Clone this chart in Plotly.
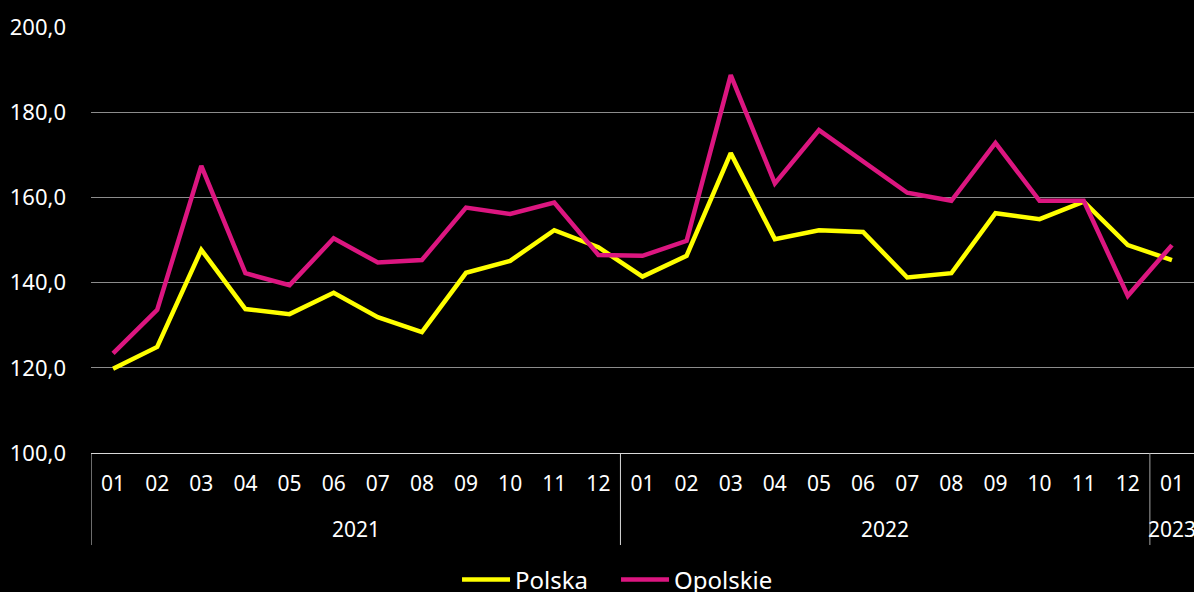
import plotly.graph_objects as go

years = ["2021"] * 12 + ["2022"] * 12 + ["2023"]
months = ["01", "02", "03", "04", "05", "06", "07", "08", "09", "10", "11", "12"] * 2 + ["01"]

polska = [119.8, 124.9, 147.7, 133.8, 132.6, 137.6, 131.9, 128.4, 142.3, 145.1, 152.3, 148.3,
          141.4, 146.3, 170.4, 150.2, 152.3, 151.9, 141.2, 142.2, 156.3, 154.9, 159.0, 148.8,
          145.3]
opolskie = [123.4, 133.6, 167.4, 142.2, 139.4, 150.4, 144.7, 145.3, 157.6, 156.1, 158.8, 146.5,
            146.3, 149.8, 188.7, 163.3, 175.8, 168.4, 161.1, 159.2, 172.8, 159.2, 159.2, 136.9,
            148.8]

y_ticks = [100, 120, 140, 160, 180, 200]

FONT = "Noto Sans"
idx = list(range(len(months)))

fig = go.Figure()
fig.add_trace(go.Scatter(x=idx, y=polska, name="Polska", mode="lines",
                         line=dict(color="#FFFF00", width=4.5),
                         customdata=years, hovertemplate="%{customdata}-%{text}: %{y}<extra></extra>",
                         text=months))
fig.add_trace(go.Scatter(x=idx, y=opolskie, name="Opolskie", mode="lines",
                         line=dict(color="#DC1680", width=4.5),
                         customdata=years, hovertemplate="%{customdata}-%{text}: %{y}<extra></extra>",
                         text=months))

fig.update_layout(
    width=1194, height=592,
    paper_bgcolor="black", plot_bgcolor="black",
    margin=dict(l=91, r=0, t=27, b=139, autoexpand=False),
    separators=", ",
    font=dict(family=FONT, color="white", size=20),
    showlegend=True,
    legend=dict(orientation="h", x=463 / 1194 - 0.005, xanchor="left", xref="container",
                yref="container", y=12 / 592, yanchor="middle",
                font=dict(size=24, color="white"), itemwidth=48, tracegroupgap=0,
                entrywidth=96, entrywidthmode="pixels"),
)
fig.update_xaxes(
    range=[-0.5, len(months) - 0.5],
    tickmode="array", tickvals=idx, ticktext=months,
    showline=True, linecolor="#d9d9d9", linewidth=1,
    showgrid=False, ticks="", zeroline=False,
    ticklabelstandoff=12, automargin=False,
    tickfont=dict(size=21, color="white"),
)
fig.update_yaxes(
    range=[100, 200], tickvals=y_ticks, tickformat=".1f",
    showgrid=True, gridcolor="#8c8c8c", gridwidth=1,
    zeroline=False, showline=False, ticks="",
    ticklabelstandoff=24, automargin=False,
    tickfont=dict(size=22, color="white"),
)

# year group labels and dividers
groups = []
for i, y in enumerate(years):
    if not groups or groups[-1][0] != y:
        groups.append([y, i, i])
    else:
        groups[-1][2] = i
for gi, (label, start, end) in enumerate(groups):
    fig.add_annotation(x=(start + end) / 2, xref="x", y=-0.178, yref="paper",
                       text=label, showarrow=False, yanchor="middle",
                       font=dict(size=21, color="white"))
    fig.add_shape(type="line", xref="x", yref="paper", x0=start - 0.5, x1=start - 0.5,
                  y0=0, y1=-0.216,
                  line=dict(color="#d9d9d9" if gi < 2 else "#a6a6a6", width=1))

fig.write_html(
    "out.html",
    config={"displayModeBar": False},
    post_script="document.body.style.margin='0';document.body.style.background='black';",
)
